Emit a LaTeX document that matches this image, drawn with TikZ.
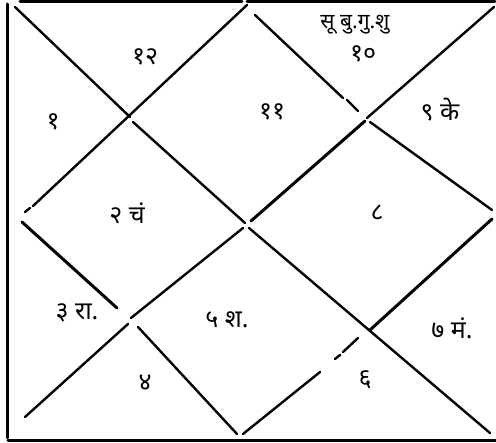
\documentclass[tikz,border=0pt]{standalone}
\usepackage{fontspec}
\newfontfamily\deva[Script=Devanagari]{Noto Sans}
\begin{document}
\begin{tikzpicture}[x=1pt,y=-1pt,
  ln/.style={line width=2.4pt,line cap=round},
  thk/.style={line width=3pt,line cap=round},
  lbl/.style={font=\deva\fontsize{25}{28}\selectfont,inner sep=0pt},
  sml/.style={font=\deva\fontsize{21}{24}\selectfont,inner sep=0pt}]
\useasboundingbox (0,0) rectangle (496,443);
% frame
\coordinate (fl1) at (7,4);   \coordinate (fl2) at (7,438);
\coordinate (ft1) at (20,2);  \coordinate (ft2) at (242,2);
\coordinate (ft3) at (247,2); \coordinate (ft4) at (495,2);
\coordinate (fb1) at (8,441); \coordinate (fb2) at (496,441);
\draw[thk] (fl1) -- (fl2);
\draw[thk] (ft1) -- (ft2);
\draw[thk] (ft3) -- (ft4);
\draw[thk] (fb1) -- (fb2);
% main diagonal TL -> BR
\coordinate (d1) at (15,7);   \coordinate (d2) at (130,117);
\coordinate (d3) at (133,122);\coordinate (d4) at (245,223);
\coordinate (d5) at (249,228);\coordinate (d6) at (490,433);
\draw[ln] (d1) -- (d2);
\draw[ln] (d3) -- (d4);
\draw[ln] (d5) -- (d6);
% anti diagonal TR -> BL
\coordinate (a1) at (494,7);  \coordinate (a2) at (367,118);
\coordinate (a3) at (365,121);\coordinate (a4) at (251,221);
\coordinate (a5) at (243,228);\coordinate (a6) at (131,318);
\coordinate (a7) at (128,324);\coordinate (a8) at (25,417);
\draw[ln] (a1) -- (a2);
\draw[thk] (a3) -- (a4);
\draw[ln] (a5) -- (a6);
\draw[ln] (a7) -- (a8);
% diamond: top -> left
\coordinate (tl1) at (247,5); \coordinate (tl2) at (33,206);
\coordinate (tl3) at (30,208);\coordinate (tl4) at (25,212);
\draw[ln] (tl1) -- (tl2);
\draw[ln] (tl3) -- (tl4);
% diamond: left -> bottom
\coordinate (lb1) at (22,222); \coordinate (lb2) at (117,308);
\coordinate (lb3) at (138,327);\coordinate (lb4) at (237,434);
\draw[thk] (lb1) -- (lb2);
\draw[ln] (lb3) -- (lb4);
% diamond: bottom -> right
\coordinate (br1) at (243,434);\coordinate (br2) at (320,372);
\coordinate (br3) at (335,359);\coordinate (br4) at (340,355);
\coordinate (br5) at (343,352);\coordinate (br6) at (358,338);
\coordinate (br7) at (370,330);\coordinate (br8) at (492,219);
\draw[ln] (br1) -- (br2);
\draw[ln] (br3) -- (br4);
\draw[ln] (br5) -- (br6);
\draw[thk] (br7) -- (br8);
% diamond: top -> right
\coordinate (tr1) at (255,15); \coordinate (tr2) at (343,98);
\coordinate (tr3) at (347,100);\coordinate (tr4) at (358,111);
\coordinate (tr5) at (370,122);\coordinate (tr6) at (492,210);
\draw[ln] (tr1) -- (tr2);
\draw[ln] (tr3) -- (tr4);
\draw[ln] (tr5) -- (tr6);
% labels
\node[sml] (p10) at (355,25) {सू बु.गु.शु};
\node[lbl] (h10) at (363,54) {१०};
\node[lbl] (h12) at (145,57) {१२};
\node[lbl] (h1)  at (53,122) {१};
\node[lbl] (h11) at (272,112) {११};
\node[lbl] (h9)  at (440,110) {९ के};
\node[lbl] (h2)  at (127,213) {२ चं};
\node[lbl] (h8)  at (377,213) {८};
\node[lbl] (h3)  at (77,313) {३ रा.};
\node[lbl] (h5)  at (227,320) {५ श.};
\node[lbl] (h7)  at (452,328) {७ मं.};
\node[lbl] (h4)  at (145,383) {४};
\node[lbl] (h6)  at (365,380) {६};
\end{tikzpicture}
\end{document}
